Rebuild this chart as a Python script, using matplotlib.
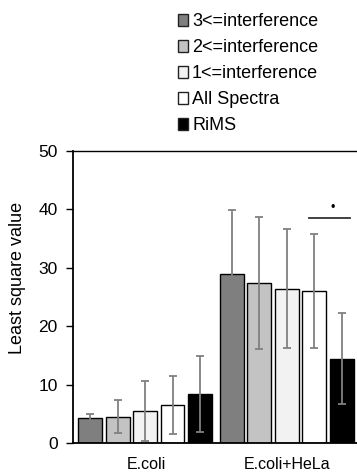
import matplotlib.pyplot as plt
import matplotlib.patches as mpatches
import numpy as np

plt.rcParams['font.family'] = ['Liberation Sans', 'DejaVu Sans']

# data
groups = ["E.coli", "E.coli+HeLa"]
series = ["3<=interference", "2<=interference", "1<=interference", "All Spectra", "RiMS"]
colors = ["#7f7f7f", "#c3c3c3", "#f2f2f2", "#ffffff", "#000000"]
ecoli = [4.3, 4.5, 5.5, 6.5, 8.4]
ecoli_err = [0.6, 2.8, 5.1, 5.0, 6.5]
hela = [28.9, 27.4, 26.4, 26.0, 14.4]
hela_err = [11.0, 11.3, 10.2, 9.8, 7.8]

fig = plt.figure(figsize=(3.57, 4.74), dpi=100)
ax = fig.add_axes([0.2045, 0.0654, 0.7955, 0.616])

width = 0.87
x1 = np.arange(5)
x2 = np.arange(5) + 5.15
for i in range(5):
    ax.bar(x1[i], ecoli[i], width, color=colors[i], edgecolor="black", linewidth=1.0, zorder=2)
    ax.bar(x2[i], hela[i], width, color=colors[i], edgecolor="black", linewidth=1.0, zorder=2)
ax.errorbar(x1, ecoli, yerr=ecoli_err, fmt="none", ecolor="#808080", elinewidth=1.3, capsize=3, capthick=1.3, zorder=3)
ax.errorbar(x2, hela, yerr=hela_err, fmt="none", ecolor="#808080", elinewidth=1.3, capsize=3, capthick=1.3, zorder=3)

# significance mark
ax.plot([x2[3] - 0.2, x2[4] + 0.3], [38.5, 38.5], color="#333333", lw=1.3)
ax.text(x2[3] + 0.68, 39.3, "•", ha="center", va="bottom", fontsize=9)

ax.set_xlim(-0.62, 9.71)
ax.set_ylim(0, 50)
ax.set_yticks([0, 10, 20, 30, 40, 50])
ax.set_xticks([2.04, 7.15])
ax.set_xticklabels(groups, fontsize=11.5)
ax.tick_params(axis="x", length=0, pad=10)
ax.tick_params(axis="y", labelsize=12.5, length=5, width=1, direction="out", pad=6)
ax.set_ylabel("Least square value", fontsize=13)
ax.yaxis.set_label_coords(-0.165, 0.565)
for s in ["left", "bottom"]:
    ax.spines[s].set_linewidth(1.3)
ax.spines["top"].set_linewidth(1.0)
ax.spines["right"].set_visible(False)

handles = [mpatches.Patch(facecolor=c, edgecolor="#222222", linewidth=1.0) for c in colors]
fig.legend(handles, series, loc="upper left", bbox_to_anchor=(0.4986, 0.972), frameon=False,
           fontsize=13, handlelength=0.58, handleheight=0.58, handletextpad=0.2, labelspacing=0.5,
           borderaxespad=0, borderpad=0)

fig.savefig("out.png", dpi=100)
